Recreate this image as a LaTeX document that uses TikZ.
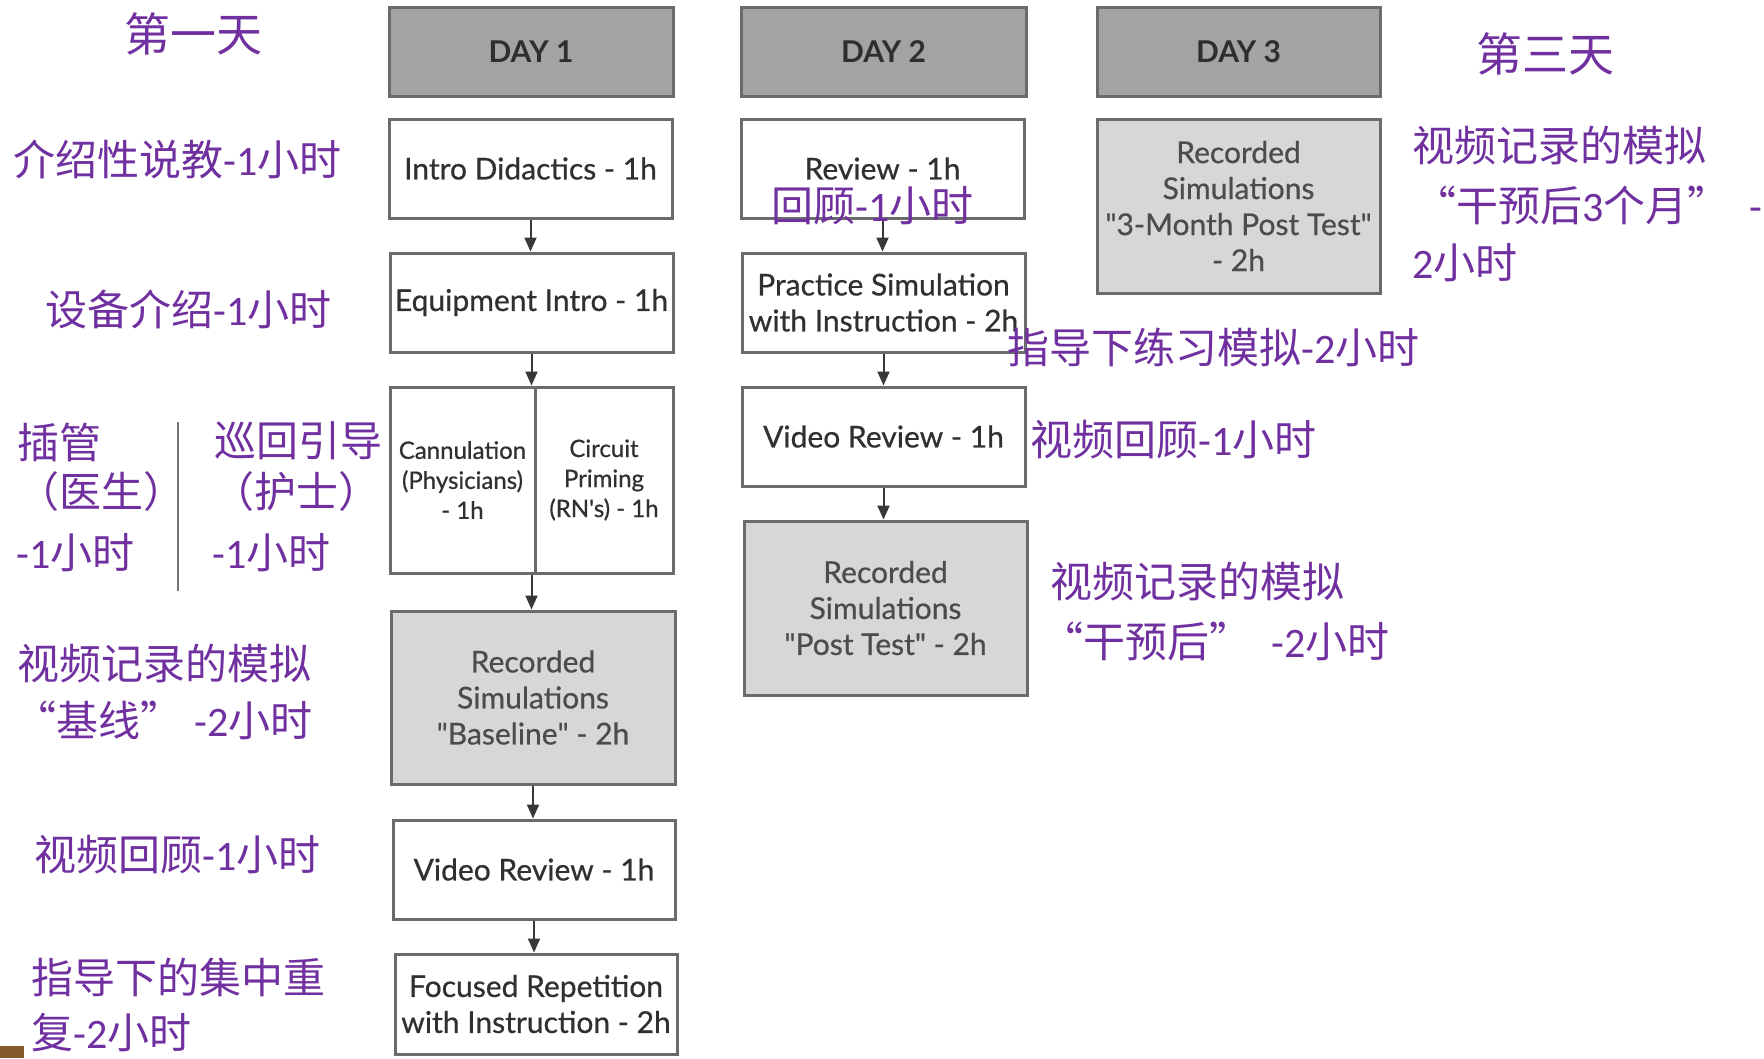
\documentclass[tikz,border=0pt]{standalone}
\usepackage{fontspec}
\setmainfont{Lato}
\newfontfamily\boxf[FakeBold=0.6]{Lato}
\newfontfamily\cjk{Noto Sans CJK SC}
\newfontfamily\latf{Carlito}
\usetikzlibrary{arrows.meta,calc}
\definecolor{purp}{HTML}{7030A0}
\definecolor{bord}{HTML}{6B6B6B}
\definecolor{hdr}{HTML}{A3A3A3}
\definecolor{rec}{HTML}{D7D7D7}
\definecolor{txt}{HTML}{303030}
\newcommand\nm[1]{{\latf #1}}
\newcommand\dq{\textquotedbl}
\begin{document}
\begin{tikzpicture}[x=1pt,y=-1pt,
 box/.style={draw=bord,line width=3pt,rectangle,inner sep=0pt,align=center,text=txt,font=\boxf\fontsize{30}{36}\selectfont},
 hdrbox/.style={box,fill=hdr,text=black!82,font=\fontsize{30}{36}\selectfont\bfseries},
 recbox/.style={box,fill=rec,text=black!70},
 smallbox/.style={box,font=\boxf\fontsize{24}{30}\selectfont},
 lbl/.style={anchor=west,inner sep=0pt,text=purp,font=\cjk\fontsize{42}{50}\selectfont},
 ttl/.style={lbl,font=\cjk\fontsize{46}{54}\selectfont},
 arr/.style={draw=black!78,line width=2pt,-{Triangle[width=12pt,length=14pt]}}
]
\useasboundingbox (0,0) rectangle (1764,1058);
\fill[white] (0,0) rectangle (1764,1058);

% Day 1 column
\node[hdrbox,minimum width=284,minimum height=89] (d1) at (531,51.5) {DAY 1};
\node[box,minimum width=283,minimum height=99] (intro) at (530.5,168.5) {Intro Didactics - 1h};
\node[box,minimum width=283,minimum height=99] (equip) at (531.5,302.5) {Equipment Intro - 1h};
\node[smallbox,minimum width=145,minimum height=186] (cann) at (462.5,480) {Cannulation\\(Physicians)\\- 1h};
\node[smallbox,minimum width=138,minimum height=186] (circ) at (604,480) {Circuit\\Priming\\(RN's) - 1h};
\node[recbox,minimum width=284,minimum height=173] (base) at (533,697.5) {Recorded\\Simulations\\\dq Baseline\dq\ - 2h};
\node[box,minimum width=282,minimum height=99] (vrev1) at (534,869.5) {Video Review - 1h};
\node[box,minimum width=282,minimum height=100] (focus) at (536,1004) {Focused Repetition\\with Instruction - 2h};

% Day 2 column
\node[hdrbox,minimum width=285,minimum height=89] (d2) at (883.5,51.5) {DAY 2};
\node[box,minimum width=283,minimum height=99] (review) at (882.5,168.5) {Review - 1h};
\node[box,minimum width=283,minimum height=99] (practice) at (883.5,302.5) {Practice Simulation\\with Instruction - 2h};
\node[box,minimum width=283,minimum height=99] (vrev2) at (883.5,436.5) {Video Review - 1h};
\node[recbox,minimum width=283,minimum height=174] (post) at (885.5,608) {Recorded\\Simulations\\\dq Post Test\dq\ - 2h};

% Day 3 column
\node[hdrbox,minimum width=283,minimum height=89] (d3) at (1238.5,51.5) {DAY 3};
\node[recbox,minimum width=283,minimum height=174] (m3) at (1238.5,206) {Recorded\\Simulations\\\dq 3-Month Post Test\dq\\- 2h};

% arrows
\coordinate (cc) at ($(cann.south west)!0.5!(circ.south east)$);
\draw[arr] (intro.south) -- (intro.south |- equip.north);
\draw[arr] (equip.south) -- (equip.south |- cann.north);
\draw[arr] (cc) -- (cc |- base.north);
\draw[arr] (base.south) -- (base.south |- vrev1.north);
\draw[arr] (vrev1.south) -- (vrev1.south |- focus.north);
\draw[arr] (review.south) -- (review.south |- practice.north);
\draw[arr] (practice.south) -- (practice.south |- vrev2.north);
\draw[arr] (vrev2.south) -- (vrev2.south |- post.north);

% left labels
\node[ttl] (t1) at (124,34) {第一天};
\node[lbl] (l1) at (13,159) {介绍性说教\nm{-1}小时};
\node[lbl] (l2) at (45,309) {设备介绍\nm{-1}小时};
\node[lbl] (l3a) at (17,442) {插管};
\node[lbl] (l3b) at (17,492) {（医生）};
\node[lbl] (l3c) at (16,553) {\nm{-1}小时};
\coordinate (sepT) at (178,422);
\coordinate (sepB) at (178,591);
\draw[black!55,line width=2pt] (sepT) -- (sepB);
\node[lbl] (l4a) at (214,441) {巡回引导};
\node[lbl] (l4b) at (212,492) {（护士）};
\node[lbl] (l4c) at (212,553) {\nm{-1}小时};
\node[lbl] (l5a) at (17,664) {视频记录的模拟};
\node[lbl] (l5b) at (14,720) {“基线”\hspace{12pt}\nm{-2}小时};
\node[lbl] (l6) at (34,855) {视频回顾\nm{-1}小时};
\node[lbl] (l7a) at (31,977) {指导下的集中重};
\node[lbl] (l7b) at (31,1033) {复\nm{-2}小时};

% right labels
\node[lbl] (r1) at (771,206) {回顾\nm{-1}小时};
\node[lbl] (r2) at (1007,347) {指导下练习模拟\nm{-2}小时};
\node[lbl] (r3) at (1030,440) {视频回顾\nm{-1}小时};
\node[lbl] (r4a) at (1050,582) {视频记录的模拟};
\node[lbl] (r4b) at (1041,641) {“干预后”\hspace{20pt}\nm{-2}小时};
\node[ttl] (t3) at (1476,54) {第三天};
\node[lbl] (r5a) at (1412,146) {视频记录的模拟};
\node[lbl] (r5b) at (1414,205) {“干预后\nm{3}个月”\hspace{20pt}\nm{-}};
\node[lbl] (r5c) at (1412,263) {\nm{2}小时};

% image fragment at bottom-left corner
\fill[brown!70!black] (0,1046) rectangle (24,1058);
\end{tikzpicture}
\end{document}
